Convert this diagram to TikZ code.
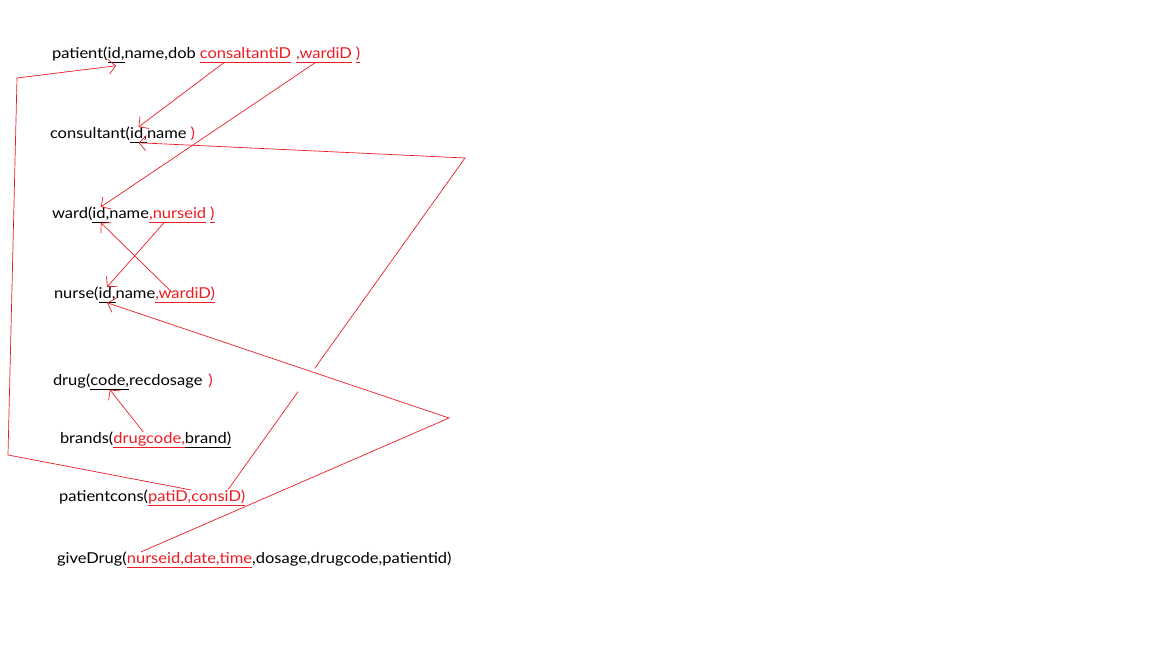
\documentclass[tikz,border=0pt]{standalone}
\usepackage{fontspec}
\setmainfont{Lato}[FakeStretch=1.1]
\usetikzlibrary{
    arrows.meta,
    calc,
    positioning,
}
\definecolor{PaintRed}{RGB}{237,28,36}
\newcommand{\ul}[1]{\underline{#1\vphantom{g,}}}
\tikzstyle{rel}=[inner sep=0pt,outer sep=0pt,font=\fontsize{15}{17}\selectfont,text=black]
\tikzstyle{key}=[rel]
\tikzstyle{fkey}=[rel,text=PaintRed]
\tikzstyle{link}=[draw=PaintRed,line width=.7pt]
\tikzset{
    >={Straight Barb[length=7pt,width=15pt]}
}

\begin{document}
\begin{tikzpicture}[x=1pt,y=-1pt]
    \useasboundingbox (0,0) rectangle (1152,648);

    % Relations
    \node[rel,anchor=base west] (patient) at (52,58) {patient(};
    \node[key,base right=0pt of patient] (patient-id) {\ul{id,}};
    \node[rel,base right=0pt of patient-id] (patient-attr) {name,dob};
    \node[fkey,base right=4pt of patient-attr] (patient-cons) {\ul{consaltantiD}};
    \node[fkey,base right=5pt of patient-cons] (patient-ward) {\ul{,wardiD}};
    \node[fkey,base right=4pt of patient-ward] (patient-end) {\ul{)}};

    \node[rel,anchor=base west] (consultant) at (50,138) {consultant(};
    \node[key,base right=0pt of consultant] (consultant-id) {\ul{id,}};
    \node[rel,base right=0pt of consultant-id] (consultant-attr) {name};
    \node[fkey,base right=4pt of consultant-attr] (consultant-end) {)};

    \node[rel,anchor=base west] (ward) at (52,218) {ward(};
    \node[key,base right=0pt of ward] (ward-id) {\ul{id,}};
    \node[rel,base right=0pt of ward-id] (ward-attr) {name};
    \node[fkey,base right=0pt of ward-attr] (ward-nurse) {\ul{,nurseid}};
    \node[fkey,base right=4pt of ward-nurse] (ward-end) {\ul{)}};

    \node[rel,anchor=base west] (nurse) at (54,298) {nurse(};
    \node[key,base right=0pt of nurse] (nurse-id) {\ul{id,}};
    \node[rel,base right=0pt of nurse-id] (nurse-attr) {name};
    \node[fkey,base right=0pt of nurse-attr] (nurse-ward) {\ul{,wardiD)}};

    \node[rel,anchor=base west] (drug) at (53,385) {drug(};
    \node[key,base right=0pt of drug] (drug-code) {\ul{code,}};
    \node[rel,base right=0pt of drug-code] (drug-attr) {recdosage};
    \node[fkey,base right=6pt of drug-attr] (drug-end) {)};

    \node[rel,anchor=base west] (brands) at (60,443) {brands(};
    \node[fkey,base right=0pt of brands] (brands-code) {\ul{drugcode,}};
    \node[key,base right=0pt of brands-code] (brands-brand) {\ul{brand)}};

    \node[rel,anchor=base west] (pc) at (59,501) {patientcons(};
    \node[fkey,base right=0pt of pc] (pc-pati) {\ul{patiD,}};
    \node[fkey,base right=0pt of pc-pati] (pc-cons) {\ul{consiD)}};

    \node[rel,anchor=base west] (gd) at (57,563) {giveDrug(};
    \node[fkey,base right=0pt of gd] (gd-key) {\ul{nurseid,date,time}};
    \node[rel,base right=0pt of gd-key] (gd-attr) {,dosage,drugcode,patientid)};

    % Bends
    \coordinate (pc-bend1) at (8,455);
    \coordinate (pc-bend2) at (17,78);
    \coordinate (cons-bend) at (465,158);
    \coordinate (gd-bend) at (449,418);
    \coordinate (pc-out) at ([xshift=10pt]pc-cons.north);

    % Foreign keys
    \draw[link,->] ([xshift=24pt]patient-cons.south west) -- (consultant-id.north);
    \draw[link,->] ([xshift=19pt]patient-ward.south west) -- (ward-id.north);
    \draw[link,->] ([xshift=15pt]ward-nurse.south west) -- (nurse-id.north);
    \draw[link,->] ([xshift=17pt,yshift=2pt]nurse-ward.west) -- (ward-id.south);
    \draw[link,->] ([xshift=30pt]brands-code.north west) -- (drug-code.south);
    \draw[link,->] (pc-pati.north east) -- (pc-bend1) -- (pc-bend2) -- ([yshift=-3pt]patient-id.south);
    \draw[link] (pc-out) -- ($(pc-out)!.295!(cons-bend)$);
    \draw[link,->] ($(pc-out)!.365!(cons-bend)$) -- (cons-bend) -- (consultant-id.south);
    \draw[link,->] ([xshift=14pt]gd-key.north west) -- (gd-bend) -- (nurse-id.south);
\end{tikzpicture}
\end{document}
